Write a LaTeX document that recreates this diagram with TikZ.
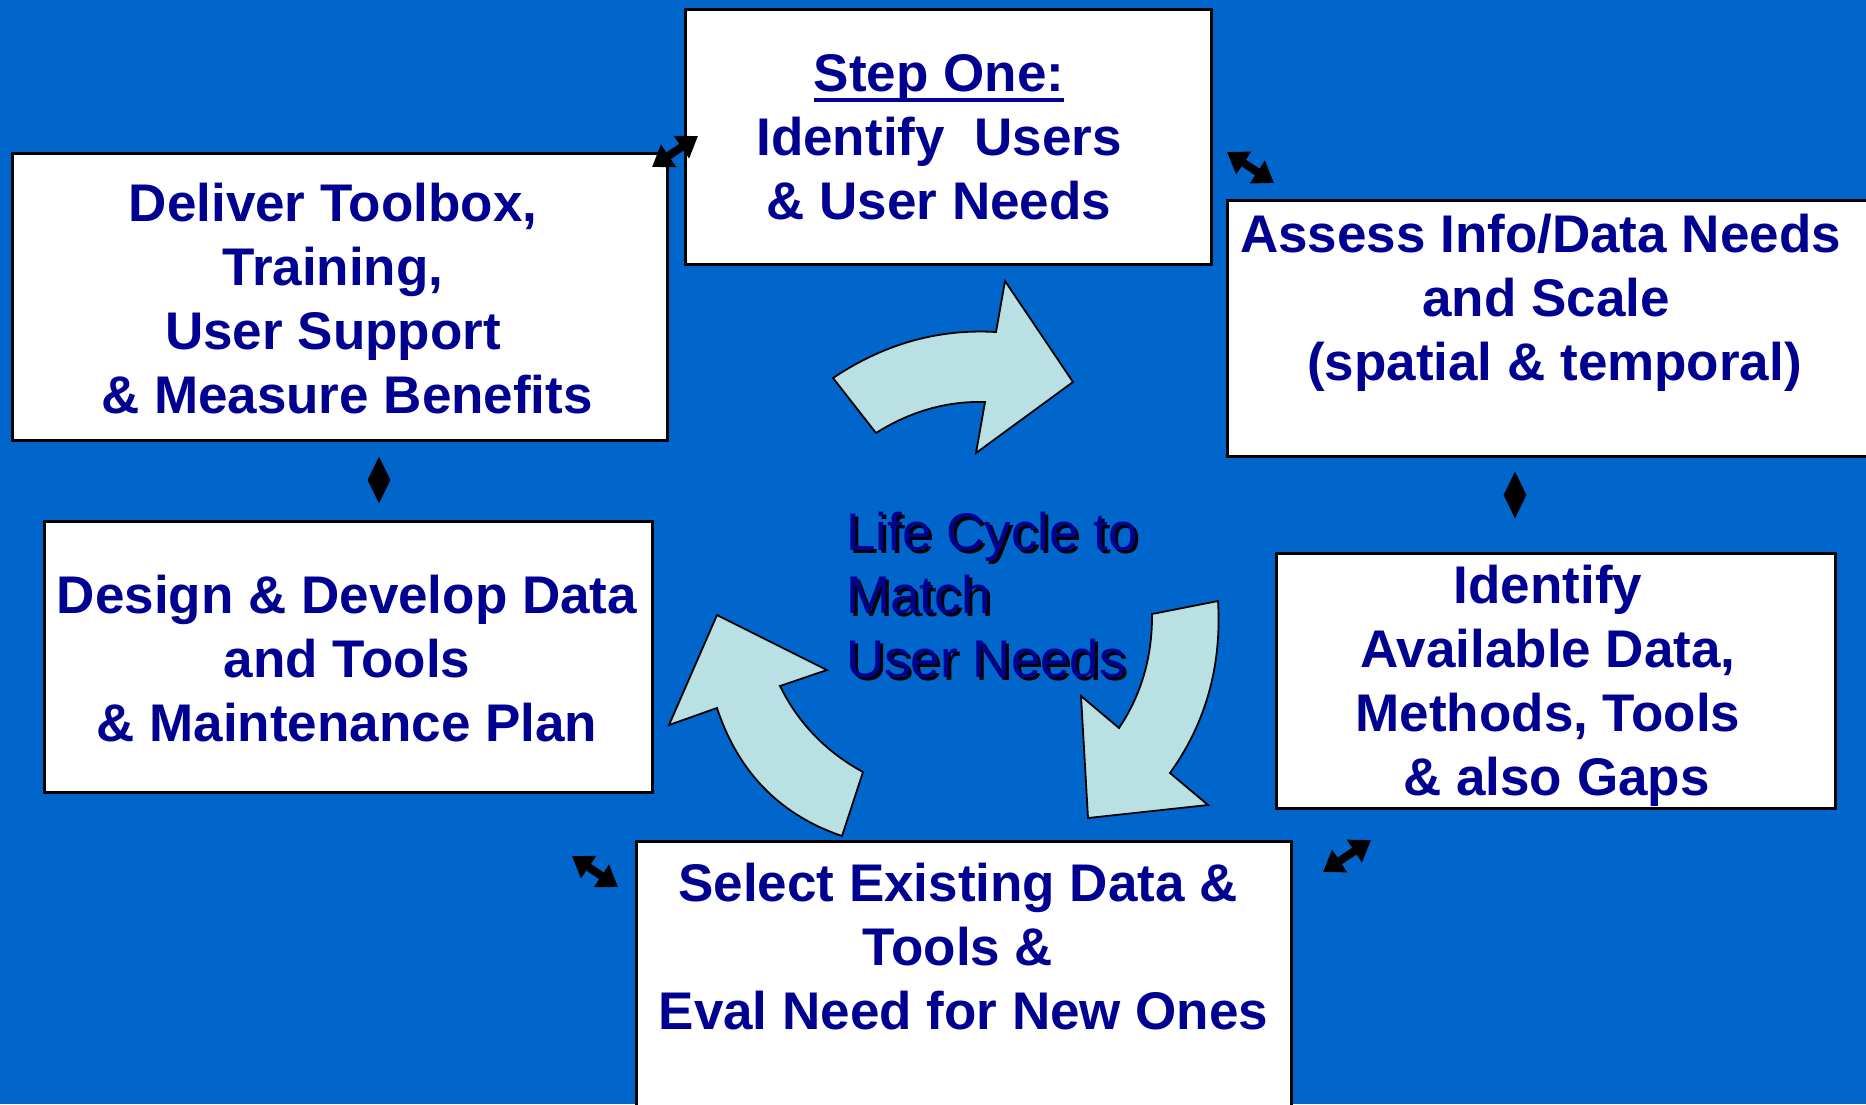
\documentclass[tikz,border=0pt]{standalone}
\usepackage{fontspec}
\setmainfont{Liberation Sans}
\usetikzlibrary{arrows.meta,shapes.geometric}
\definecolor{bgblue}{RGB}{0,102,204}
\definecolor{navy}{RGB}{0,0,145}
\definecolor{cyanfill}{RGB}{185,224,227}
\newcommand\stepul[1]{\setbox0\hbox{#1}\rlap{\rule[-11pt]{\wd0}{4.3pt}}\box0}
\tikzset{
  boxstyle/.style={draw=black,line width=2.5pt,fill=white,rectangle,inner sep=0pt,anchor=north west},
  txtstyle/.style={text=navy,font=\bfseries\fontsize{53}{64}\selectfont,align=center,inner sep=0pt,anchor=base},
  ctrstyle/.style={font=\fontsize{53}{63.5}\selectfont,align=left,inner sep=0pt,anchor=base west},
  dblarrow/.style={line width=8pt,{Triangle[length=20pt,width=26pt]}-{Triangle[length=20pt,width=26pt]}},
  cycarrow/.style={draw=black,line width=1.8pt,fill=cyanfill,line join=miter},
  diastyle/.style={diamond,fill=black,inner sep=0pt,minimum width=23pt,minimum height=47pt}
}
\begin{document}
\begin{tikzpicture}[x=1pt,y=-1pt]
\useasboundingbox (0,0) rectangle (1866,1104);
\fill[bgblue] (0,0) rectangle (1866,1104);

% boxes
\node[boxstyle,minimum width=526pt,minimum height=255pt] (b1) at (684,8) {};
\node[boxstyle,minimum width=680pt,minimum height=256pt] (b2) at (1226,199) {};
\node[boxstyle,minimum width=559pt,minimum height=255pt] (b3) at (1275,552) {};
\node[boxstyle,minimum width=655pt,minimum height=320pt] (b4) at (635,840) {};
\node[boxstyle,minimum width=608pt,minimum height=271pt] (b5) at (43,520) {};
\node[boxstyle,minimum width=655pt,minimum height=287pt] (b6) at (11,152) {};

% box texts (anchor = baseline of the last line)
\node[txtstyle] (t1) at (939,219) {\stepul{Step One:}\\Identify\ \ Users\\\& User Needs};
\node[txtstyle] (t2) at (1546,380) {Assess Info/Data Needs\hspace*{11pt}\\and Scale\\\hspace*{17pt}(spatial \& temporal)};
\node[txtstyle] (t3) at (1548,795) {Identify\\Available Data,\\Methods, Tools\\\hspace*{17pt}\& also Gaps};
\node[txtstyle] (t4) at (958,1029) {Select Existing Data \&\\Tools \&\\\hspace*{11pt}Eval Need for New Ones};
\node[txtstyle] (t5) at (347,741) {Design \& Develop Data\\and Tools\\\& Maintenance Plan};
\node[txtstyle] (t6) at (333,413) {Deliver Toolbox,\\Training,\\User Support\\\hspace*{28pt}\& Measure Benefits};

% centre text with shadow
\node[ctrstyle,text=black] (cshadow) at (849,680) {Life Cycle to\\Match\\User Needs};
\node[ctrstyle,text=navy] (ctext) at (846,677) {Life Cycle to\\Match\\User Needs};

% cycle arrows
\draw[cycarrow] (876,433) .. controls (910.5,411.3) and (946.8,400.9) .. (985,402)
  -- (976,453) -- (1073,382) -- (1005,281) -- (996,332)
  .. controls (938.2,328.6) and (883.9,343.9) .. (833,378) -- cycle;
\draw[cycarrow] (1152,614) .. controls (1152.4,656.6) and (1141.4,694.6) .. (1119,728)
  -- (1081,696) -- (1088,818) -- (1208,805) -- (1170,773)
  .. controls (1205.9,723.1) and (1221.9,665.7) .. (1218,601) -- cycle;
\draw[cycarrow] (863,772) .. controls (826.1,751.9) and (798.4,723.3) .. (780,686)
  -- (827,670) -- (717,615) -- (669,725) -- (717,708)
  .. controls (738,772) and (780,815) .. (842,836) -- cycle;

% small double arrows
\coordinate (a1s) at (652,167); \coordinate (a1e) at (698,136);
\coordinate (a2s) at (1227,152); \coordinate (a2e) at (1274,183);
\coordinate (a3s) at (572,856);  \coordinate (a3e) at (618,887);
\coordinate (a4s) at (1323,872); \coordinate (a4e) at (1371,840);
\draw[dblarrow] (a1s) -- (a1e);
\draw[dblarrow] (a2s) -- (a2e);
\draw[dblarrow] (a3s) -- (a3e);
\draw[dblarrow] (a4s) -- (a4e);

% diamonds
\node[diastyle] (d1) at (379,480) {};
\node[diastyle] (d2) at (1515,495) {};
\end{tikzpicture}
\end{document}
